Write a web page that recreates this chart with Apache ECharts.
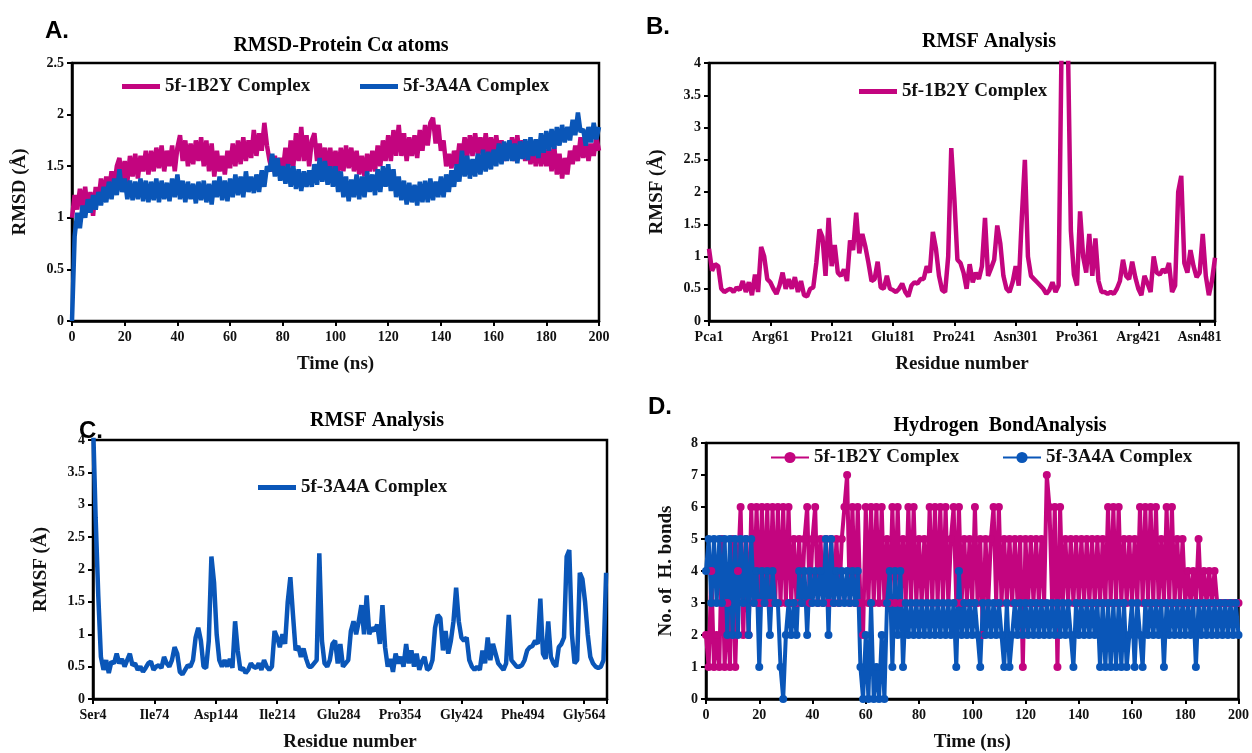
<!DOCTYPE html>
<html>
<head>
<meta charset="utf-8">
<script src="https://cdn.jsdelivr.net/npm/echarts@6/dist/echarts.min.js"></script>
<style>
html, body { margin: 0; padding: 0; background: #fff; }
#main { width: 1252px; height: 753px; }
</style>
</head>
<body>
<div id="main"></div>
<script>
// RMSD, one value per ns (0-200 ns)
var rmsd1B2Y = [
    1.0,1.22,1.08,1.28,1.1,1.3,1.05,1.25,1.02,1.3,
    1.15,1.38,1.2,1.4,1.25,1.45,1.3,1.5,1.58,1.35,
    1.55,1.35,1.6,1.4,1.62,1.38,1.6,1.45,1.65,1.42,
    1.65,1.45,1.68,1.48,1.7,1.45,1.65,1.5,1.7,1.45,
    1.68,1.8,1.55,1.75,1.5,1.72,1.52,1.75,1.55,1.78,
    1.5,1.75,1.45,1.72,1.4,1.65,1.45,1.6,1.42,1.65,
    1.48,1.72,1.5,1.75,1.52,1.78,1.55,1.75,1.58,1.85,
    1.6,1.82,1.65,1.92,1.7,1.55,1.45,1.6,1.42,1.58,
    1.45,1.68,1.45,1.75,1.5,1.82,1.55,1.88,1.55,1.8,
    1.5,1.75,1.82,1.55,1.72,1.5,1.68,1.45,1.68,1.45,
    1.65,1.42,1.68,1.45,1.7,1.48,1.68,1.45,1.65,1.42,
    1.6,1.4,1.62,1.45,1.65,1.45,1.7,1.5,1.75,1.55,
    1.8,1.55,1.85,1.6,1.9,1.6,1.82,1.55,1.78,1.6,
    1.8,1.58,1.85,1.65,1.9,1.7,1.92,1.97,1.72,1.9,
    1.65,1.75,1.5,1.62,1.48,1.65,1.5,1.72,1.55,1.78,
    1.6,1.8,1.6,1.82,1.62,1.78,1.58,1.82,1.6,1.78,
    1.58,1.8,1.6,1.75,1.55,1.72,1.58,1.78,1.55,1.8,
    1.58,1.75,1.55,1.72,1.52,1.7,1.5,1.72,1.5,1.68,
    1.5,1.68,1.45,1.7,1.42,1.62,1.38,1.58,1.42,1.65,
    1.52,1.7,1.55,1.78,1.58,1.75,1.55,1.72,1.6,1.78,
    1.65
];
var rmsd3A4A = [
    0,0.82,1.05,0.9,1.12,1.0,1.18,1.05,1.22,1.08,
    1.25,1.12,1.3,1.15,1.35,1.18,1.38,1.22,1.47,1.25,
    1.38,1.18,1.36,1.17,1.35,1.18,1.38,1.16,1.36,1.15,
    1.35,1.17,1.38,1.15,1.36,1.18,1.34,1.16,1.38,1.2,
    1.42,1.18,1.36,1.15,1.35,1.18,1.33,1.14,1.35,1.17,
    1.36,1.15,1.33,1.13,1.36,1.2,1.4,1.17,1.36,1.16,
    1.38,1.2,1.42,1.22,1.4,1.2,1.45,1.25,1.4,1.24,
    1.42,1.25,1.46,1.3,1.5,1.45,1.62,1.4,1.58,1.36,
    1.5,1.33,1.52,1.3,1.5,1.28,1.47,1.26,1.45,1.3,
    1.46,1.3,1.52,1.32,1.58,1.35,1.55,1.32,1.5,1.3,
    1.5,1.25,1.45,1.2,1.4,1.16,1.37,1.2,1.42,1.18,
    1.4,1.2,1.45,1.25,1.42,1.22,1.47,1.25,1.5,1.3,
    1.52,1.26,1.47,1.2,1.4,1.17,1.36,1.13,1.34,1.15,
    1.32,1.12,1.35,1.15,1.36,1.15,1.38,1.17,1.35,1.2,
    1.4,1.2,1.42,1.25,1.46,1.3,1.52,1.35,1.65,1.4,
    1.6,1.38,1.57,1.4,1.62,1.42,1.66,1.45,1.64,1.47,
    1.66,1.5,1.72,1.52,1.74,1.55,1.75,1.55,1.72,1.53,
    1.74,1.57,1.76,1.56,1.78,1.6,1.76,1.58,1.82,1.63,
    1.84,1.65,1.86,1.67,1.88,1.7,1.9,1.73,1.88,1.75,
    1.95,1.8,2.02,1.83,1.86,1.7,1.88,1.73,1.92,1.76,
    1.88
];

// RMSF 5f-1B2Y, every 3rd residue from Pca1
var rmsfStep = 3;
var rmsf1B2Y = [
    1.12,0.78,0.88,0.85,0.5,0.45,0.48,0.5,0.45,0.52,
    0.48,0.62,0.45,0.6,0.4,0.72,0.45,1.15,1.0,0.65,
    0.6,0.5,0.42,0.55,0.75,0.5,0.65,0.5,0.68,0.45,
    0.62,0.4,0.38,0.5,0.52,0.9,1.42,1.3,0.7,1.6,
    0.85,1.18,0.75,0.7,0.8,0.62,1.25,1.1,1.68,1.05,
    1.35,1.15,0.9,0.62,0.65,0.92,0.52,0.5,0.7,0.5,
    0.48,0.45,0.5,0.58,0.45,0.38,0.55,0.6,0.58,0.65,
    0.65,0.85,0.75,1.38,1.12,0.7,0.48,0.45,1.0,2.68,
    1.9,0.95,0.9,0.75,0.5,0.88,0.6,0.75,0.65,0.85,
    1.6,0.7,0.82,0.95,1.48,1.2,0.7,0.5,0.45,0.6,
    0.85,0.55,1.6,2.5,1.0,0.7,0.65,0.6,0.55,0.5,
    0.42,0.48,0.6,0.45,0.55,4.4,4.4,4.4,1.4,0.72,
    0.55,1.7,1.0,0.75,1.35,0.7,1.28,0.62,0.45,0.45,
    0.42,0.45,0.42,0.5,0.62,0.95,0.7,0.65,0.92,0.68,
    0.5,0.4,0.7,0.58,0.45,1.0,0.75,0.72,0.8,0.75,
    0.9,0.45,0.55,2.0,2.25,0.9,0.75,1.1,0.85,0.68,
    0.75,1.35,0.7,0.4,0.62,0.98
];
var residueTicks1B2Y = ['Pca1', 'Arg61', 'Pro121', 'Glu181', 'Pro241', 'Asn301', 'Pro361', 'Arg421', 'Asn481'];

// RMSF 5f-3A4A, every 3rd residue from Ser4
var rmsf3A4A = [
    4.3,2.8,1.6,0.65,0.45,0.6,0.4,0.58,0.55,0.7,
    0.55,0.62,0.5,0.6,0.7,0.52,0.55,0.45,0.5,0.42,
    0.48,0.55,0.58,0.45,0.5,0.52,0.48,0.65,0.55,0.5,
    0.6,0.8,0.7,0.42,0.38,0.45,0.52,0.5,0.6,0.95,
    1.1,0.9,0.5,0.48,0.9,2.2,1.8,1.0,0.6,0.5,
    0.6,0.5,0.62,0.48,1.2,0.75,0.45,0.48,0.4,0.45,
    0.55,0.5,0.48,0.55,0.45,0.6,0.5,0.45,0.5,1.05,
    0.95,0.8,1.0,0.85,1.5,1.88,1.3,0.75,0.82,0.65,
    0.78,0.62,0.5,0.5,0.55,0.6,2.25,0.9,0.55,0.5,
    0.6,0.85,0.9,0.55,0.85,0.5,0.55,0.6,1.05,1.2,
    1.0,1.2,1.45,1.0,1.6,1.0,1.1,1.05,1.15,0.85,
    1.45,0.8,0.5,0.62,0.42,0.7,0.55,0.65,0.5,0.85,
    0.55,0.75,0.5,0.7,0.45,0.58,0.65,0.45,0.48,0.6,
    1.1,1.3,1.25,0.75,1.05,0.7,0.9,1.2,1.72,1.2,
    0.95,0.9,0.95,0.6,0.5,0.45,0.5,0.45,0.75,0.55,
    0.95,0.6,0.85,0.7,0.55,0.5,0.45,0.55,1.3,0.6,
    0.55,0.5,0.5,0.52,0.6,0.75,0.8,0.82,0.9,0.85,
    1.55,0.7,0.62,1.2,0.65,0.55,0.5,0.8,0.85,0.95,
    2.2,2.3,1.0,0.55,0.6,1.95,1.85,1.5,1.0,0.65,
    0.55,0.5,0.48,0.5,0.6,1.95
];
var residueTicks3A4A = ['Ser4', 'Ile74', 'Asp144', 'Ile214', 'Glu284', 'Pro354', 'Gly424', 'Phe494', 'Gly564'];

// hydrogen bonds, one value per ns
var hb1B2Y = [
    2,1,4,1,2,1,5,1,3,1,
    5,1,4,6,2,5,2,6,3,6,
    3,6,3,6,3,6,3,6,3,6,
    3,6,3,5,3,5,3,5,6,3,
    5,6,3,5,3,5,3,5,3,5,
    3,5,6,7,3,6,3,6,3,2,
    6,3,6,3,6,3,6,3,5,3,
    6,3,6,3,5,3,6,3,6,3,
    5,3,5,3,6,3,6,3,6,3,
    6,3,5,6,3,6,3,5,3,5,
    3,6,3,5,2,5,3,5,6,3,
    6,3,5,3,5,3,5,3,5,1,
    5,3,5,3,5,3,5,3,7,6,
    3,6,1,6,3,5,3,5,3,5,
    3,5,3,5,3,5,3,5,3,5,
    3,6,3,6,3,6,3,5,3,5,
    3,5,3,6,3,6,3,6,3,6,
    3,5,3,6,3,6,3,5,3,5,
    3,4,3,4,3,5,3,4,3,4,
    3,4,3,3,3,3,3,3,3,3,
    3
];
var hb3A4A = [
    4,5,3,5,3,5,3,5,2,5,
    2,5,2,5,3,5,2,5,3,4,
    1,4,3,4,2,4,3,3,1,0,
    2,3,2,3,2,4,3,4,2,4,
    3,4,3,4,3,5,2,5,3,4,
    3,4,3,4,3,4,3,4,1,0,
    2,0,3,0,1,0,2,0,3,4,
    1,4,2,4,1,3,2,3,2,3,
    2,3,2,3,2,3,2,3,2,3,
    2,3,2,3,1,4,2,3,2,3,
    2,3,2,1,3,2,3,2,3,2,
    3,2,1,3,1,2,3,2,3,2,
    3,2,3,2,3,2,3,2,3,2,
    3,2,3,2,3,2,3,2,1,3,
    2,3,2,3,2,3,2,3,1,3,
    1,3,1,3,1,3,1,3,1,2,
    3,1,3,2,1,3,2,3,2,3,
    2,3,1,3,2,3,2,3,2,3,
    2,3,2,3,1,3,2,3,2,3,
    2,3,2,3,2,3,2,3,2,3,
    2
];

var PINK = '#c3057f';
var BLUE = '#0a56b8';
var SERIF = 'Liberation Serif';

function toPairs(vals, step) {
    return vals.map(function (v, i) { return [i * step, v]; });
}

var axisText = { fontFamily: SERIF, fontWeight: 'bold', fontSize: 14, color: '#111' };
var nameText = { fontFamily: SERIF, fontWeight: 'bold', fontSize: 19, color: '#111' };

function xAxis(grid, max, interval, ticks, name) {
    return {
        type: 'value', gridIndex: grid, min: 0, max: max, interval: interval,
        name: name, nameLocation: 'middle', nameGap: 34, nameTextStyle: nameText,
        axisLine: { onZero: false, lineStyle: { color: '#000', width: 2.5 } },
        axisTick: { length: 5, lineStyle: { color: '#000', width: 2 } },
        axisLabel: Object.assign({
            margin: 9,
            formatter: function (v) {
                if (!ticks) return v;
                if (v % interval !== 0) return '';
                return ticks[v / interval] || '';
            }
        }, axisText),
        splitLine: { show: false }
    };
}

function yAxis(grid, max, interval, name, gap) {
    return {
        type: 'value', gridIndex: grid, min: 0, max: max, interval: interval,
        name: name, nameLocation: 'middle', nameGap: gap, nameTextStyle: nameText,
        axisLine: { lineStyle: { color: '#000', width: 2.5 } },
        axisTick: { length: 5, lineStyle: { color: '#000', width: 2 } },
        axisLabel: Object.assign({ margin: 8 }, axisText),
        splitLine: { show: false }
    };
}

// plain bar icon for the RMSD / RMSF legends, line + dot for the H-bond one
function legendAt(name, left, top, withDot) {
    var lg = {
        data: [name], left: left, top: top, itemWidth: 38, itemGap: 2,
        textStyle: { fontFamily: SERIF, fontWeight: 'bold', fontSize: 19, color: '#111' }
    };
    if (withDot) {
        lg.itemHeight = 14;
    } else {
        lg.icon = 'rect';
        lg.itemHeight = 5;
    }
    return lg;
}

function panelTitle(text, x, y, font, size) {
    return {
        text: text, left: x, top: y, textAlign: 'center',
        textStyle: { fontFamily: font, fontWeight: 'bold', fontSize: size, color: '#000' }
    };
}

var chart = echarts.init(document.getElementById('main'));
var frame = { show: true, borderColor: '#000', borderWidth: 2.5, backgroundColor: '#fff' };

var option = {
    animation: false,
    backgroundColor: '#fff',
    title: [
        panelTitle('A.', 52, 14, 'Liberation Sans', 24),
        panelTitle('B.', 653, 10, 'Liberation Sans', 24),
        panelTitle('C.', 86, 414, 'Liberation Sans', 24),
        panelTitle('D.', 655, 390, 'Liberation Sans', 24),
        panelTitle('RMSD-Protein C\u03b1 atoms', 336, 31, SERIF, 20),
        panelTitle('RMSF Analysis', 984, 27, SERIF, 20),
        panelTitle('RMSF Analysis', 372, 406, SERIF, 20),
        panelTitle('Hydrogen  BondAnalysis', 995, 411, SERIF, 20)
    ],
    legend: [
        legendAt('5f-1B2Y Complex', 117, 72),
        legendAt('5f-3A4A Complex ', 355, 72),
        legendAt('5f-1B2Y Complex  ', 854, 77),
        legendAt('5f-3A4A Complex   ', 253, 473),
        legendAt('5f-1B2Y Complex    ', 765, 443, true),
        legendAt('5f-3A4A Complex     ', 997, 443, true)
    ],
    grid: [
        Object.assign({ left: 72, top: 63, width: 527, height: 258 }, frame),
        Object.assign({ left: 709, top: 63, width: 506, height: 258 }, frame),
        Object.assign({ left: 93, top: 440, width: 514, height: 259 }, frame),
        Object.assign({ left: 706, top: 443, width: 533, height: 256 }, frame)
    ],
    xAxis: [
        xAxis(0, 200, 20, null, 'Time (ns)'),
        xAxis(1, 495, 60, residueTicks1B2Y, 'Residue number'),
        xAxis(2, 586, 70, residueTicks3A4A, 'Residue number'),
        xAxis(3, 200, 20, null, 'Time (ns)')
    ],
    yAxis: [
        yAxis(0, 2.5, 0.5, 'RMSD (\u00c5)', 42),
        yAxis(1, 4, 0.5, 'RMSF (\u00c5)', 42),
        yAxis(2, 4, 0.5, 'RMSF (\u00c5)', 42),
        yAxis(3, 8, 1, 'No. of  H. bonds', 30)
    ],
    series: [
        {
            name: '5f-1B2Y Complex', type: 'line', xAxisIndex: 0, yAxisIndex: 0,
            data: toPairs(rmsd1B2Y, 1), symbol: 'none', color: PINK,
            lineStyle: { width: 4.5, color: PINK }
        },
        {
            name: '5f-3A4A Complex ', type: 'line', xAxisIndex: 0, yAxisIndex: 0,
            data: toPairs(rmsd3A4A, 1), symbol: 'none', color: BLUE,
            lineStyle: { width: 4.5, color: BLUE }
        },
        {
            name: '5f-1B2Y Complex  ', type: 'line', xAxisIndex: 1, yAxisIndex: 1,
            data: toPairs(rmsf1B2Y, rmsfStep), symbol: 'none', color: PINK,
            lineStyle: { width: 4.5, color: PINK }
        },
        {
            name: '5f-3A4A Complex   ', type: 'line', xAxisIndex: 2, yAxisIndex: 2,
            data: toPairs(rmsf3A4A, rmsfStep), symbol: 'none', color: BLUE,
            lineStyle: { width: 4.5, color: BLUE }
        },
        {
            name: '5f-1B2Y Complex    ', type: 'line', xAxisIndex: 3, yAxisIndex: 3,
            data: toPairs(hb1B2Y, 1), symbol: 'circle', symbolSize: 8, color: PINK,
            lineStyle: { width: 4, color: PINK }, itemStyle: { color: PINK }
        },
        {
            name: '5f-3A4A Complex     ', type: 'line', xAxisIndex: 3, yAxisIndex: 3,
            data: toPairs(hb3A4A, 1), symbol: 'circle', symbolSize: 8, color: BLUE,
            lineStyle: { width: 4, color: BLUE }, itemStyle: { color: BLUE }
        }
    ]
};

chart.setOption(option);
</script>
</body>
</html>
